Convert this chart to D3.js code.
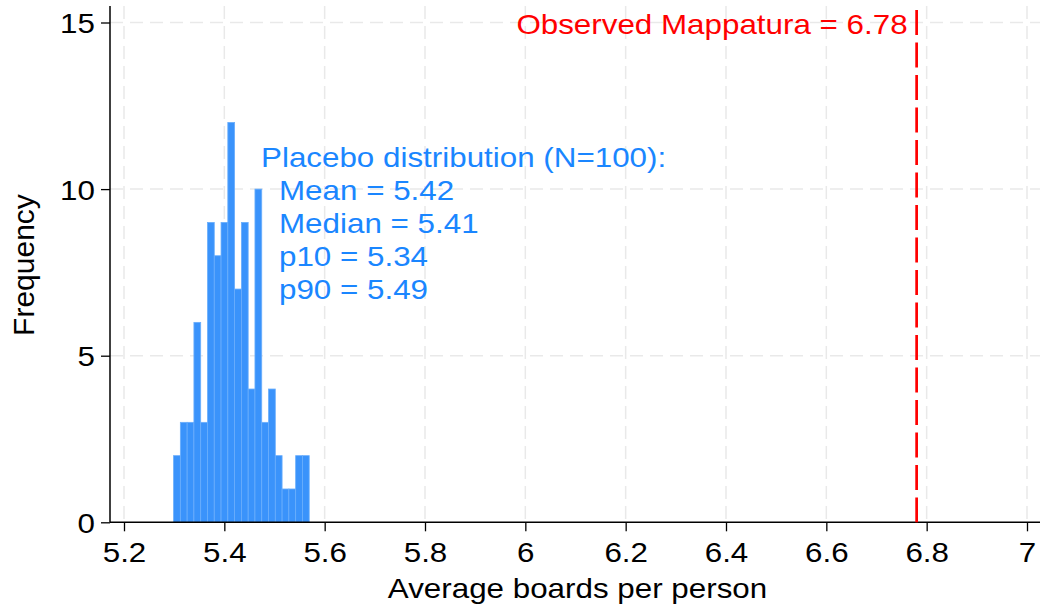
<!DOCTYPE html>
<html><head><meta charset="utf-8">
<script src="https://cdn.jsdelivr.net/npm/d3@7"></script>
<style>body{margin:0;background:#fff;} text{font-family:"Liberation Sans",Arial,Helvetica,sans-serif;}</style>
</head><body><svg id="c" width="1040" height="607"></svg>
<script>
const binStart = 5.2988;
const binWidth = 0.01352;
const counts = [2,3,3,6,3,9,8,9,12,7,9,4,10,3,4,2,1,1,2,2];
const xTicks = [5.2,5.4,5.6,5.8,6,6.2,6.4,6.6,6.8,7];
const yTicks = [0,5,10,15];
const observed = 6.78;
const observedLabel = "Observed Mappatura = 6.78";
const statLines = ["Placebo distribution (N=100):","Mean = 5.42","Median = 5.41","p10 = 5.34","p90 = 5.49"];

const FS = 28, SX = 1.12;
const svg = d3.select("#c");
const x = d3.scaleLinear().domain([5.2,7]).range([124,1027]);
const y = d3.scaleLinear().domain([0,15]).range([522.3,22.5]);
const blue = "#3a93fb", txtBlue = "#1a86ff", red = "#ff0000";

function stext(g, tx, ty, str, anchor, color){
  return g.append("text").attr("transform",`translate(${tx},${ty}) scale(${SX},1)`)
    .attr("text-anchor",anchor||"start").attr("font-size",FS).attr("fill",color||"#000").text(str);
}

// grid
svg.append("g").selectAll("line").data(xTicks).join("line")
  .attr("x1",d=>x(d)).attr("x2",d=>x(d)).attr("y1",6).attr("y2",522)
  .attr("stroke","#e9e9e9").attr("stroke-width",1.5).attr("stroke-dasharray","13,7");
svg.append("g").selectAll("line").data(yTicks.filter(d=>d>0)).join("line")
  .attr("x1",110).attr("x2",1040).attr("y1",d=>y(d)).attr("y2",d=>y(d))
  .attr("stroke","#e9e9e9").attr("stroke-width",1.5).attr("stroke-dasharray","13,7");

// bars
const bins = counts.map((c,i)=>({x0:binStart+i*binWidth,x1:binStart+(i+1)*binWidth,c}));
svg.append("g").selectAll("rect").data(bins).join("rect")
  .attr("x",d=>x(d.x0)).attr("width",d=>x(d.x1)-x(d.x0))
  .attr("y",d=>y(d.c)).attr("height",d=>y(0)-y(d.c))
  .attr("fill",blue).attr("stroke","#6aaefc").attr("stroke-width",0.8);

// axes
const xAxis = svg.append("g").attr("transform",`translate(0,${y(0)})`)
  .call(d3.axisBottom(x).tickValues(xTicks).tickSize(9).tickFormat(d=>d3.format("")(d)));
xAxis.select(".domain").remove();
xAxis.append("line").attr("x1",110).attr("x2",1040).attr("stroke","#000").attr("stroke-width",1.5);
xAxis.selectAll(".tick line").attr("stroke","#000").attr("stroke-width",1.3);
xAxis.selectAll(".tick text").attr("font-size",FS).attr("fill","#000")
  .attr("y",0).attr("dy",0).attr("transform",`translate(0,40) scale(${SX},1)`);

const yAxis = svg.append("g").attr("transform","translate(110,0)")
  .call(d3.axisLeft(y).tickValues(yTicks).tickSize(9));
yAxis.select(".domain").remove();
yAxis.append("line").attr("y1",6).attr("y2",y(0)).attr("stroke","#000").attr("stroke-width",1.5);
yAxis.selectAll(".tick line").attr("stroke","#000").attr("stroke-width",1.3);
yAxis.selectAll(".tick text").attr("font-size",FS).attr("fill","#000")
  .attr("x",0).attr("dy","0.36em").attr("transform",`translate(-15,0) scale(${SX},1)`);

// axis titles
stext(svg, 577.5, 598, "Average boards per person", "middle");
svg.append("text").attr("transform","translate(34,265) rotate(-90)").attr("text-anchor","middle")
  .attr("font-size",30).text("Frequency");

// observed line
svg.append("line").attr("x1",x(observed)).attr("x2",x(observed)).attr("y1",10).attr("y2",y(0))
  .attr("stroke",red).attr("stroke-width",2.7).attr("stroke-dasharray","25,7.5");
stext(svg, x(observed)-9, 34, observedLabel, "end", red);

// stats text
statLines.forEach((s,i)=>{
  stext(svg, i===0?261:279, 166.7+i*33.15, s, "start", txtBlue);
});
</script></body></html>
